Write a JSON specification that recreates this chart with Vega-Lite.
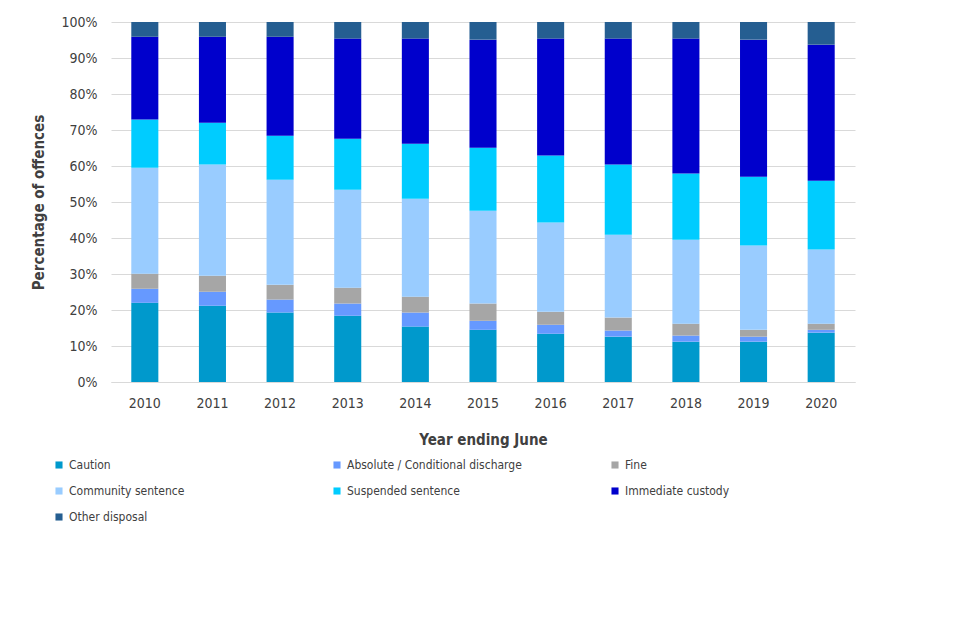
{
  "$schema": "https://vega.github.io/schema/vega-lite/v6.json",
  "autosize": "none",
  "width": 744,
  "height": 360,
  "padding": {"left": 111, "top": 22, "right": 105, "bottom": 258},
  "background": "white",
  "config": {
    "font": "DejaVu Sans Condensed, sans-serif",
    "view": {"stroke": null}
  },
  "data": {
    "values": [
      {"year": "2010", "disposal": "Caution", "pct": 22.0},
      {"year": "2010", "disposal": "Absolute / Conditional discharge", "pct": 3.9},
      {"year": "2010", "disposal": "Fine", "pct": 4.2},
      {"year": "2010", "disposal": "Community sentence", "pct": 29.4},
      {"year": "2010", "disposal": "Suspended sentence", "pct": 13.4},
      {"year": "2010", "disposal": "Immediate custody", "pct": 23.0},
      {"year": "2010", "disposal": "Other disposal", "pct": 4.1},
      {"year": "2011", "disposal": "Caution", "pct": 21.2},
      {"year": "2011", "disposal": "Absolute / Conditional discharge", "pct": 3.9},
      {"year": "2011", "disposal": "Fine", "pct": 4.4},
      {"year": "2011", "disposal": "Community sentence", "pct": 30.9},
      {"year": "2011", "disposal": "Suspended sentence", "pct": 11.6},
      {"year": "2011", "disposal": "Immediate custody", "pct": 23.9},
      {"year": "2011", "disposal": "Other disposal", "pct": 4.1},
      {"year": "2012", "disposal": "Caution", "pct": 19.3},
      {"year": "2012", "disposal": "Absolute / Conditional discharge", "pct": 3.6},
      {"year": "2012", "disposal": "Fine", "pct": 4.1},
      {"year": "2012", "disposal": "Community sentence", "pct": 29.2},
      {"year": "2012", "disposal": "Suspended sentence", "pct": 12.2},
      {"year": "2012", "disposal": "Immediate custody", "pct": 27.5},
      {"year": "2012", "disposal": "Other disposal", "pct": 4.1},
      {"year": "2013", "disposal": "Caution", "pct": 18.4},
      {"year": "2013", "disposal": "Absolute / Conditional discharge", "pct": 3.4},
      {"year": "2013", "disposal": "Fine", "pct": 4.4},
      {"year": "2013", "disposal": "Community sentence", "pct": 27.2},
      {"year": "2013", "disposal": "Suspended sentence", "pct": 14.2},
      {"year": "2013", "disposal": "Immediate custody", "pct": 27.8},
      {"year": "2013", "disposal": "Other disposal", "pct": 4.6},
      {"year": "2014", "disposal": "Caution", "pct": 15.4},
      {"year": "2014", "disposal": "Absolute / Conditional discharge", "pct": 3.9},
      {"year": "2014", "disposal": "Fine", "pct": 4.4},
      {"year": "2014", "disposal": "Community sentence", "pct": 27.2},
      {"year": "2014", "disposal": "Suspended sentence", "pct": 15.3},
      {"year": "2014", "disposal": "Immediate custody", "pct": 29.2},
      {"year": "2014", "disposal": "Other disposal", "pct": 4.6},
      {"year": "2015", "disposal": "Caution", "pct": 14.5},
      {"year": "2015", "disposal": "Absolute / Conditional discharge", "pct": 2.5},
      {"year": "2015", "disposal": "Fine", "pct": 4.8},
      {"year": "2015", "disposal": "Community sentence", "pct": 25.8},
      {"year": "2015", "disposal": "Suspended sentence", "pct": 17.5},
      {"year": "2015", "disposal": "Immediate custody", "pct": 30.0},
      {"year": "2015", "disposal": "Other disposal", "pct": 4.9},
      {"year": "2016", "disposal": "Caution", "pct": 13.4},
      {"year": "2016", "disposal": "Absolute / Conditional discharge", "pct": 2.5},
      {"year": "2016", "disposal": "Fine", "pct": 3.6},
      {"year": "2016", "disposal": "Community sentence", "pct": 24.8},
      {"year": "2016", "disposal": "Suspended sentence", "pct": 18.6},
      {"year": "2016", "disposal": "Immediate custody", "pct": 32.5},
      {"year": "2016", "disposal": "Other disposal", "pct": 4.6},
      {"year": "2017", "disposal": "Caution", "pct": 12.6},
      {"year": "2017", "disposal": "Absolute / Conditional discharge", "pct": 1.7},
      {"year": "2017", "disposal": "Fine", "pct": 3.6},
      {"year": "2017", "disposal": "Community sentence", "pct": 23.0},
      {"year": "2017", "disposal": "Suspended sentence", "pct": 19.5},
      {"year": "2017", "disposal": "Immediate custody", "pct": 35.0},
      {"year": "2017", "disposal": "Other disposal", "pct": 4.6},
      {"year": "2018", "disposal": "Caution", "pct": 11.2},
      {"year": "2018", "disposal": "Absolute / Conditional discharge", "pct": 1.7},
      {"year": "2018", "disposal": "Fine", "pct": 3.3},
      {"year": "2018", "disposal": "Community sentence", "pct": 23.3},
      {"year": "2018", "disposal": "Suspended sentence", "pct": 18.4},
      {"year": "2018", "disposal": "Immediate custody", "pct": 37.5},
      {"year": "2018", "disposal": "Other disposal", "pct": 4.6},
      {"year": "2019", "disposal": "Caution", "pct": 11.2},
      {"year": "2019", "disposal": "Absolute / Conditional discharge", "pct": 1.4},
      {"year": "2019", "disposal": "Fine", "pct": 1.9},
      {"year": "2019", "disposal": "Community sentence", "pct": 23.4},
      {"year": "2019", "disposal": "Suspended sentence", "pct": 19.1},
      {"year": "2019", "disposal": "Immediate custody", "pct": 38.1},
      {"year": "2019", "disposal": "Other disposal", "pct": 4.9},
      {"year": "2020", "disposal": "Caution", "pct": 13.7},
      {"year": "2020", "disposal": "Absolute / Conditional discharge", "pct": 0.8},
      {"year": "2020", "disposal": "Fine", "pct": 1.7},
      {"year": "2020", "disposal": "Community sentence", "pct": 20.6},
      {"year": "2020", "disposal": "Suspended sentence", "pct": 19.1},
      {"year": "2020", "disposal": "Immediate custody", "pct": 37.8},
      {"year": "2020", "disposal": "Other disposal", "pct": 6.3}
    ]
  },
  "transform": [
    {
      "calculate": "indexof(['Caution', 'Absolute / Conditional discharge', 'Fine', 'Community sentence', 'Suspended sentence', 'Immediate custody', 'Other disposal'], datum.disposal)",
      "as": "stackOrder"
    }
  ],
  "mark": "bar",
  "encoding": {
    "x": {
      "field": "year",
      "type": "ordinal",
      "title": "Year ending June",
      "scale": {"paddingInner": 0.6, "paddingOuter": 0.3},
      "axis": {
        "labelAngle": 0,
        "labelFontSize": 14,
        "labelColor": "#404040",
        "labelPadding": 14,
        "ticks": false,
        "domainColor": "#D9D9D9",
        "titleFontSize": 15,
        "titleFontWeight": "bold",
        "titleColor": "#404040",
        "titlePadding": 22
      }
    },
    "y": {
      "field": "pct",
      "type": "quantitative",
      "stack": "normalize",
      "title": "Percentage of offences",
      "axis": {
        "values": [0, 0.1, 0.2, 0.3, 0.4, 0.5, 0.6, 0.7, 0.8, 0.9, 1],
        "format": ".0%",
        "labelFontSize": 14,
        "labelColor": "#404040",
        "labelPadding": 14,
        "ticks": false,
        "domain": false,
        "gridColor": "#D9D9D9",
        "titleFontSize": 15,
        "titleFontWeight": "bold",
        "titleColor": "#404040",
        "titlePadding": 14
      }
    },
    "order": {"field": "stackOrder", "type": "quantitative"},
    "color": {
      "field": "disposal",
      "type": "nominal",
      "scale": {
        "domain": ["Caution", "Absolute / Conditional discharge", "Fine", "Community sentence", "Suspended sentence", "Immediate custody", "Other disposal"],
        "range": ["#0099CC", "#6699FF", "#A6A6A6", "#99CCFF", "#00CCFF", "#0000CC", "#255E91"]
      },
      "legend": {
        "title": null,
        "orient": "none",
        "legendX": -58,
        "legendY": 437,
        "direction": "horizontal",
        "columns": 3,
        "gridAlign": "all",
        "columnPadding": 87,
        "rowPadding": 14,
        "symbolType": "square",
        "symbolSize": 50,
        "symbolStrokeWidth": 0,
        "labelFontSize": 12,
        "labelLimit": 400,
        "labelColor": "#404040",
        "labelOffset": 4
      }
    }
  }
}
